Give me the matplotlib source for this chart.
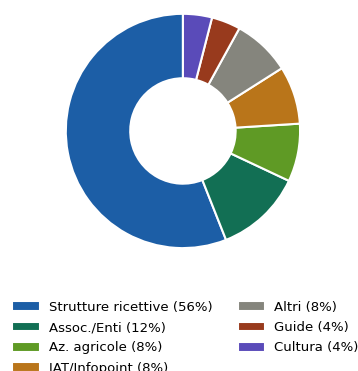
import matplotlib.pyplot as plt

# data
labels = ["Strutture ricettive", "Assoc./Enti", "Az. agricole", "IAT/Infopoint",
          "Altri", "Guide", "Cultura"]
counts = [14, 3, 2, 2, 2, 1, 1]
colors = ["#1c5ea6", "#126f54", "#5f9a25", "#b9751a", "#85857d", "#983a1d", "#5a4bb9"]

total = sum(counts)
legend_labels = [f"{l} ({round(c / total * 100)}%)" for l, c in zip(labels, counts)]

fig = plt.figure(figsize=(3.58, 3.71), dpi=100)
ax = fig.add_axes([0.102, 0.252, 0.818, 0.79])

wedges, _ = ax.pie(
    counts,
    colors=colors,
    startangle=90,
    counterclock=True,
    wedgeprops=dict(width=0.55, edgecolor="white", linewidth=1.5),
)
ax.set_aspect("equal")

fig.legend(
    wedges, legend_labels,
    loc="upper left", bbox_to_anchor=(0.0, 0.221),
    ncol=2, frameon=False, fontsize=9.5,
    handlelength=2.1, handleheight=0.75,
    columnspacing=1.9, labelspacing=0.55, handletextpad=0.7,
)

plt.savefig("out.png", dpi=100)
